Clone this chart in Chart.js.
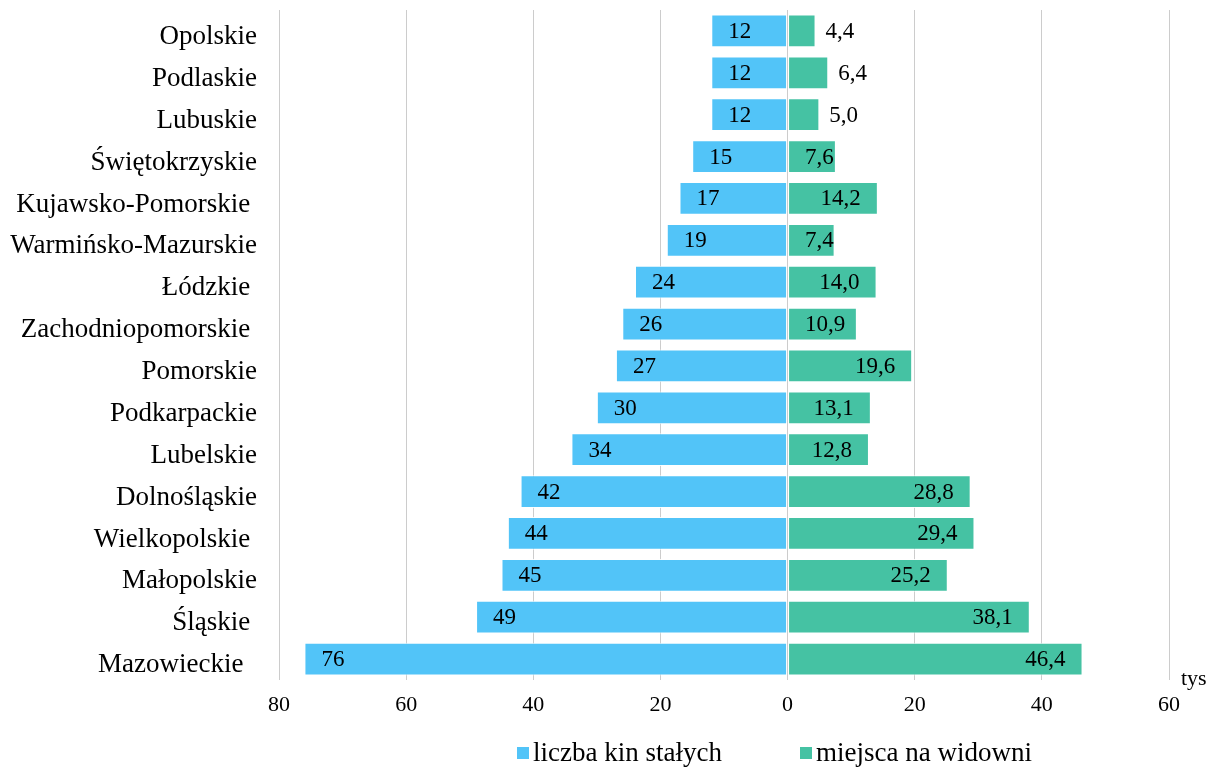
<!DOCTYPE html>
<html lang="pl">
<head>
<meta charset="utf-8">
<script src="https://cdn.jsdelivr.net/npm/chart.js@4.4.1/dist/chart.umd.min.js"></script>
<style>
  body { margin: 0; background: #fff; }
  #wrap { position: relative; width: 1216px; height: 769px; }
  .leg { position: absolute; top: 737px; display: flex; align-items: center;
         font: 27px "Liberation Serif", "Times New Roman", serif; color: #000; }
  .leg span.box { width: 12px; height: 12px; margin-right: 4px; display: inline-block; }
</style>
</head>
<body>
<div id="wrap">
  <canvas id="c"></canvas>
  <div class="leg" style="left:517px"><span class="box" style="background:#52c4f8"></span>liczba kin stałych</div>
  <div class="leg" style="left:800px"><span class="box" style="background:#45c2a3"></span>miejsca na widowni</div>
</div>
<script>
document.addEventListener("DOMContentLoaded", () => {

  const regions = [
    "Opolskie", "Podlaskie", "Lubuskie", "Świętokrzyskie", "Kujawsko-Pomorskie ",
    "Warmińsko-Mazurskie", "Łódzkie ", "Zachodniopomorskie ", "Pomorskie", "Podkarpackie",
    "Lubelskie", "Dolnośląskie", "Wielkopolskie ", "Małopolskie", "Śląskie ", "Mazowieckie  "
  ];
  const cinemas = [12, 12, 12, 15, 17, 19, 24, 26, 27, 30, 34, 42, 44, 45, 49, 76];
  const seats = [4.4, 6.4, 5.0, 7.6, 14.2, 7.4, 14.0, 10.9, 19.6, 13.1, 12.8, 28.8, 29.4, 25.2, 38.1, 46.4];
  const xTicks = [-80, -60, -40, -20, 0, 20, 40, 60];

  const serif = '"Liberation Serif", "Times New Roman", serif';
  const fmt = v => Math.abs(v).toFixed(1).replace(".", ",");

  // etykiety danych jak w Excelu: wewnątrz przy końcu, a gdy się nie mieszczą - na zewnątrz
  const labels = {
    id: "labels",
    afterDatasetsDraw(chart) {
      const ctx = chart.ctx;
      ctx.save();
      ctx.font = "23px " + serif;
      ctx.fillStyle = "#000";
      ctx.textBaseline = "middle";
      chart.getDatasetMeta(0).data.forEach((el, i) => {
        ctx.textAlign = "left";
        ctx.fillText(String(cinemas[i]), el.x + 17, el.y + 1);
      });
      chart.getDatasetMeta(1).data.forEach((el, i) => {
        const t = fmt(seats[i]);
        const w = ctx.measureText(t).width;
        ctx.textAlign = "left";
        if (el.base + 17 + w > el.x) {
          ctx.fillText(t, el.x + 10, el.y + 1);
        } else {
          const left = Math.max(el.x - 17 - w, el.base + 17);
          ctx.fillText(t, left, el.y + 1);
        }
      });
      const xs = chart.scales.x;
      ctx.font = "22px " + serif;
      ctx.textBaseline = "alphabetic";
      ctx.fillText("tys", xs.right + 12, xs.top + 5);
      ctx.restore();
    }
  };

  new Chart(document.getElementById("c"), {
    type: "bar",
    data: {
      labels: regions,
      datasets: [
        {
          label: "liczba kin stałych",
          data: cinemas.map(v => -v),
          backgroundColor: "#52c4f8",
          borderColor: "rgba(255,255,255,0.85)",
          borderWidth: 1,
          borderSkipped: false,
          barPercentage: 0.78,
          categoryPercentage: 1
        },
        {
          label: "miejsca na widowni",
          data: seats,
          backgroundColor: "#45c2a3",
          borderColor: "rgba(255,255,255,0.85)",
          borderWidth: 1,
          borderSkipped: false,
          barPercentage: 0.78,
          categoryPercentage: 1
        }
      ]
    },
    options: {
      indexAxis: "y",
      responsive: true,
      maintainAspectRatio: false,
      animation: false,
      layout: { padding: { top: 10, right: 47, bottom: 0, left: 0 } },
      plugins: { legend: { display: false }, tooltip: { enabled: false } },
      scales: {
        x: {
          stacked: true,
          min: -80,
          max: 60,
          afterBuildTicks: s => { s.ticks = xTicks.map(v => ({ value: v })); },
          afterFit: s => { s.height = 89; },
          grid: { color: "#cccccc", drawTicks: false },
          border: { display: false },
          ticks: {
            padding: 12,
            color: "#000",
            font: { family: serif, size: 22 },
            callback: v => Math.abs(v)
          }
        },
        y: {
          stacked: true,
          afterFit: s => { s.width = 279; s.paddingTop = 0; s.paddingBottom = 0; },
          grid: { display: false, drawTicks: false },
          border: { display: false },
          ticks: {
            padding: 22,
            labelOffset: 6,
            color: "#000",
            font: { family: serif, size: 27 }
          }
        }
      }
    },
    plugins: [labels]
  });

});
</script>
</body>
</html>
